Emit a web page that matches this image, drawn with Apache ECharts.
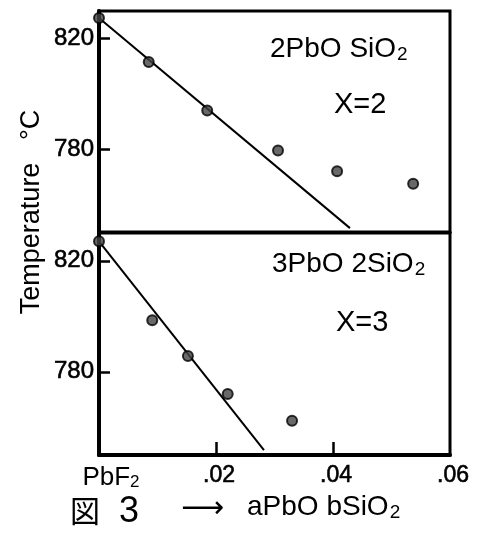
<!DOCTYPE html>
<html>
<head>
<meta charset="utf-8">
<script src="https://cdn.jsdelivr.net/npm/echarts@6/dist/echarts.min.js"></script>
<style>html,body{margin:0;padding:0;background:#fff}#c{width:488px;height:536px}</style>
</head>
<body>
<div id="c"></div>
<script>
// ---- data ----
const xTicks = [0, 0.02, 0.04, 0.06];
const xTickLabels = ['PbF2', '.02', '.04', '.06'];
const yTicks = [780, 820];
const yMin = 750, yMax = 830;
const xMin = 0, xMax = 0.06;

const topX = [0, 0.0085, 0.0185, 0.0306, 0.0407, 0.0537];
const topT = [827.5, 811.5, 794, 779.5, 772, 767.5];
const topFitX = [0, 0.0429];
const topFitT = [827.5, 751.4];

const botX = [0, 0.0091, 0.0152, 0.022, 0.033];
const botT = [827, 798.6, 785.7, 772, 762.3];
const botFitX = [0, 0.0282];
const botFitT = [827, 751.8];

const FONT = 'Liberation Sans';
const TICK = '#000';
const pairs = (xs, ys) => xs.map((x, i) => [x, ys[i]]);

const chart = echarts.init(document.getElementById('c'), null, {renderer: 'canvas'});

function yAxisCfg(gi) {
  return {
    type: 'value', gridIndex: gi, min: yMin, max: yMax,
    axisLine: {show: true, onZero: false, lineStyle: {color: '#000', width: 4}},
    axisTick: {show: true, inside: true, length: 11, customValues: yTicks, lineStyle: {color: TICK, width: 2.5}},
    axisLabel: {show: true, customValues: yTicks, margin: 5, color: '#000', fontSize: 24, fontFamily: FONT,
      textBorderColor: '#000', textBorderWidth: 0.6},
    splitLine: {show: false}
  };
}

const option = {
  animation: false,
  backgroundColor: '#fff',
  grid: [
    {left: 99, top: 11, width: 351, height: 221, show: true, borderColor: '#000', borderWidth: 3},
    {left: 99, top: 233, width: 351, height: 222, show: true, borderColor: '#000', borderWidth: 3}
  ],
  xAxis: [
    {type: 'value', gridIndex: 0, min: xMin, max: xMax,
     axisLine: {show: true, onZero: false, lineStyle: {color: '#000', width: 3}},
     axisTick: {show: false}, axisLabel: {show: false}, splitLine: {show: false}},
    {type: 'value', gridIndex: 1, min: xMin, max: xMax,
     axisLine: {show: true, onZero: false, lineStyle: {color: '#000', width: 4}},
     axisTick: {show: true, inside: true, length: 13, customValues: [xTicks[1], xTicks[2]], lineStyle: {color: TICK, width: 2.5}},
     axisLabel: {show: true, customValues: xTicks, margin: 9, color: '#000', fontSize: 23, fontFamily: FONT,
       formatter: function (v) {
         const i = xTicks.findIndex(t => Math.abs(t - v) < 1e-9);
         if (i === 0) return '{m|PbF}{s|2}';
         return '{n|' + (i >= 0 ? xTickLabels[i] : '') + '}';
       },
       rich: {
         m: {fontSize: 26, fontFamily: FONT, color: '#000', padding: [0, 0, 0, 24]},
         s: {fontSize: 17, fontFamily: FONT, color: '#000', padding: [10, 0, 0, 0]},
         n: {fontSize: 23, fontFamily: FONT, color: '#000', padding: [0, 0, 0, 6], textBorderColor: '#000', textBorderWidth: 0.6}
       }},
     splitLine: {show: false}}
  ],
  yAxis: [yAxisCfg(0), yAxisCfg(1)],
  series: [
    {type: 'line', xAxisIndex: 0, yAxisIndex: 0, data: pairs(topFitX, topFitT), symbol: 'none',
     lineStyle: {color: '#000', width: 2}, z: 2},
    {type: 'line', xAxisIndex: 1, yAxisIndex: 1, data: pairs(botFitX, botFitT), symbol: 'none',
     lineStyle: {color: '#000', width: 2}, z: 2},
    {type: 'scatter', xAxisIndex: 0, yAxisIndex: 0, data: pairs(topX, topT), symbol: 'circle', symbolSize: 10,
     itemStyle: {color: '#444', borderColor: '#000', borderWidth: 2}, z: 3, clip: false},
    {type: 'scatter', xAxisIndex: 1, yAxisIndex: 1, data: pairs(botX, botT), symbol: 'circle', symbolSize: 10,
     itemStyle: {color: '#444', borderColor: '#000', borderWidth: 2}, z: 3, clip: false}
  ],
  graphic: [
    {type: 'text', left: 270, top: 35, style: {
      text: '{a|2PbO SiO}{s|2}', rich: {
        a: {fontSize: 28, fontFamily: FONT, fill: '#000'},
        s: {fontSize: 19, fontFamily: FONT, fill: '#000', padding: [12, 0, 0, 1]}}}},
    {type: 'text', left: 334, top: 90, style: {text: 'X=2', fontSize: 29, fontFamily: FONT, fill: '#000'}},
    {type: 'text', left: 272, top: 250, style: {
      text: '{a|3PbO 2SiO}{s|2}', rich: {
        a: {fontSize: 28, fontFamily: FONT, fill: '#000'},
        s: {fontSize: 19, fontFamily: FONT, fill: '#000', padding: [12, 0, 0, 1]}}}},
    {type: 'text', left: 336, top: 308, style: {text: 'X=3', fontSize: 29, fontFamily: FONT, fill: '#000'}},
    {type: 'text', x: 32, y: 212, rotation: Math.PI / 2, style: {
      text: 'Temperature   °C', fontSize: 27, fontFamily: FONT, fill: '#000', align: 'center', verticalAlign: 'middle'}},
    {type: 'text', left: 70, top: 496, style: {text: '図', fontSize: 30, fontFamily: 'Noto Sans CJK JP', fill: '#000'}},
    {type: 'text', left: 119, top: 494, style: {text: '3', fontSize: 36, fontFamily: FONT, fill: '#000'}},
    {type: 'text', left: 181, top: 494, style: {text: '⟶', fontSize: 30, fontFamily: 'DejaVu Sans', fill: '#000'}},
    {type: 'text', left: 247, top: 493, style: {
      text: '{a|aPbO bSiO}{s|2}', rich: {
        a: {fontSize: 28, fontFamily: FONT, fill: '#000'},
        s: {fontSize: 19, fontFamily: FONT, fill: '#000', padding: [12, 0, 0, 1]}}}}
  ]
};
chart.setOption(option);
</script>
</body>
</html>
